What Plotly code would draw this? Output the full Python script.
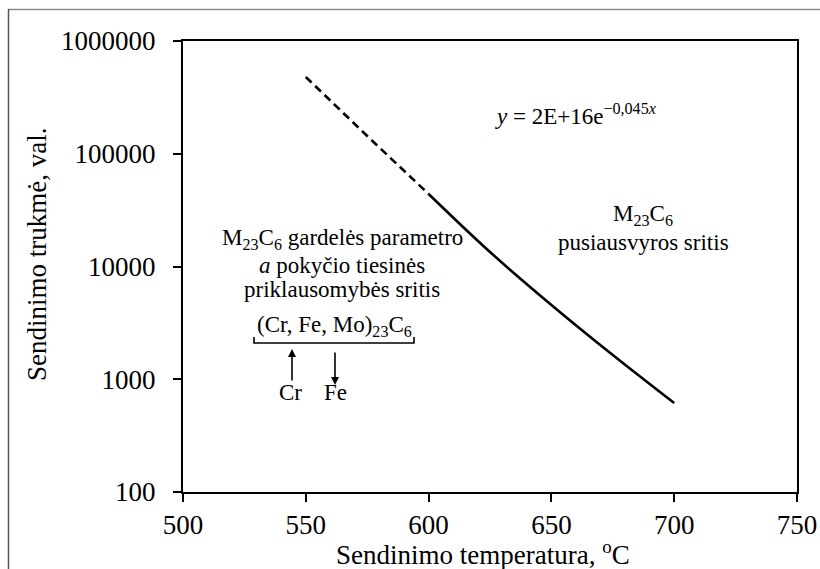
import plotly.graph_objects as go

# Data
temp_dash = [550, 575, 600]
time_dash = [480000, 143600, 44000]
temp_solid = [600, 625, 650, 675, 700]
time_solid = [44000, 13450, 4560, 1640, 615]

y_tickvals = [100, 1000, 10000, 100000, 1000000]
y_ticktext = ["100", "1000", "10000", "100000", "1000000"]
x_tickvals = [500, 550, 600, 650, 700, 750]

x_title = "Sendinimo temperatura, <sup>o</sup>C"
y_title = "Sendinimo trukm\u0117, val."

FONT = "Liberation Serif, Times New Roman, serif"

fig = go.Figure()
fig.add_trace(go.Scatter(x=temp_dash, y=time_dash, mode="lines",
                         line=dict(color="black", width=2.6, dash="8px,5px"),
                         showlegend=False, hoverinfo="skip"))
fig.add_trace(go.Scatter(x=temp_solid, y=time_solid, mode="lines",
                         line=dict(color="black", width=2.6, shape="spline"),
                         showlegend=False, hoverinfo="skip"))

L, R, T, B = 183, 23, 41, 77
W, H = 820, 569
pw, ph = W - L - R, H - T - B

def px(x):
    return (x - L) / pw

def py(y):
    return (H - B - y) / ph

ann = []
def txt(s, x, y, size=23, angle=0):
    ann.append(dict(text=s, x=px(x), y=py(y), xref="paper", yref="paper",
                    showarrow=False, xanchor="center", yanchor="middle",
                    textangle=angle,
                    font=dict(family=FONT, size=size, color="black")))

txt("<i>y</i> = 2E+16e<sup>\u22120,045<i>x</i></sup>", 576, 114)
txt("M<sub>23</sub>C<sub>6</sub>", 643, 215)
txt("pusiausvyros sritis", 643, 242)
txt("M<sub>23</sub>C<sub>6</sub> gardel\u0117s parametro", 342, 239)
txt("<i>a</i> poky\u010dio tiesin\u0117s", 342, 265)
txt("priklausomyb\u0117s sritis", 342, 289)
txt("(Cr, Fe, Mo)<sub>23</sub>C<sub>6</sub>", 334, 326)
txt("Cr", 290, 392)
txt("Fe", 335, 392)
# axis titles
txt(x_title, 483, 553, size=27)
txt(y_title, 37, 255, size=27, angle=-90)

# arrows
ann.append(dict(text="", x=px(292), y=py(349), xref="paper", yref="paper",
                ax=0, ay=33, showarrow=True, arrowhead=2, arrowsize=1,
                arrowwidth=1.6, arrowcolor="black"))
ann.append(dict(text="", x=px(335), y=py(385), xref="paper", yref="paper",
                ax=0, ay=-34, showarrow=True, arrowhead=2, arrowsize=1,
                arrowwidth=1.6, arrowcolor="black"))

shapes = [
    # bracket
    dict(type="path", xref="paper", yref="paper",
         path=f"M {px(254)} {py(337)} L {px(254)} {py(343)} L {px(414)} {py(343)} L {px(414)} {py(337)}",
         line=dict(color="black", width=1.6)),
    # outer frame (top and left)
    dict(type="line", xref="paper", yref="paper", x0=px(8), x1=px(830), y0=py(9.5), y1=py(9.5),
         line=dict(color="#8a8a8a", width=1.5)),
    dict(type="line", xref="paper", yref="paper", x0=px(8.5), x1=px(8.5), y0=py(9), y1=py(580),
         line=dict(color="#555555", width=1.5)),
]

fig.update_layout(
    width=W, height=H,
    margin=dict(l=L, r=R, t=T, b=B, autoexpand=False),
    paper_bgcolor="white", plot_bgcolor="white",
    font=dict(family=FONT, size=27, color="black"),
    annotations=ann, shapes=shapes,
    xaxis=dict(range=[500, 750], tickvals=x_tickvals, showgrid=False, zeroline=False,
               showline=True, linecolor="black", linewidth=2, mirror=True,
               ticks="outside", ticklen=8, tickwidth=2, tickcolor="black",
               tickfont=dict(family=FONT, size=27), automargin=False,
               ticklabelstandoff=0),
    yaxis=dict(type="log", range=[2, 6], tickvals=y_tickvals, ticktext=y_ticktext,
               showgrid=False, zeroline=False,
               showline=True, linecolor="black", linewidth=2, mirror=True,
               ticks="outside", ticklen=8, tickwidth=2, tickcolor="black",
               tickfont=dict(family=FONT, size=27), automargin=False,
               ticklabelstandoff=12),
)

fig.write_html("out.html")
